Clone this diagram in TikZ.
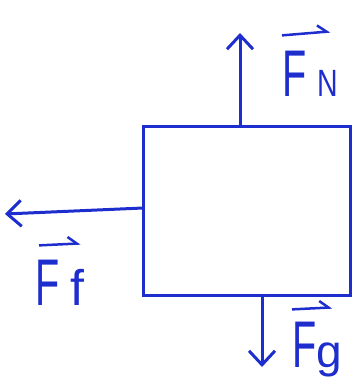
\documentclass[tikz,border=0pt]{standalone}
\usepackage{fontspec}
\usepackage{graphicx}
\setmainfont{Liberation Sans}
\usetikzlibrary{arrows.meta}
\definecolor{pen}{RGB}{30,45,205}
\newcommand{\bigF}{\scalebox{0.6}[1]{F}}
\newcommand{\subf}[1]{{\fontsize{38}{38}\selectfont\scalebox{0.75}[1]{#1}}}

\begin{document}
\begin{tikzpicture}[x=1pt,y=-1pt,
  force/.style={pen,line width=3pt,-{Straight Barb[length=14pt,width=26pt,line width=3pt]}},
  vecbar/.style={pen,line width=2.5pt,-{Straight Barb[left,length=9pt,width=14pt,line width=2.5pt]}},
  lbl/.style={pen,inner sep=0pt,font=\fontsize{66}{66}\selectfont}]
  \useasboundingbox (0,0) rectangle (355,385);
  % Block
  \node[draw=pen,line width=3pt,minimum width=207pt,minimum height=169pt,inner sep=0pt] (body) at (246.5,210.5) {};
  % Coordinates
  \coordinate (n0) at (240,126);
  \coordinate (n1) at (240,33);
  \coordinate (f0) at (143,208);
  \coordinate (f1) at (5,214);
  \coordinate (g0) at (262,295);
  \coordinate (g1) at (262,367);
  % Forces
  \draw[force] (n0) -- (n1);
  \draw[force] (f0) -- (f1);
  \draw[force] (g0) -- (g1);
  % Labels
  \node[lbl,anchor=base west] (fn) at (282,97) {\bigF\,\subf{N}};
  \node[lbl,anchor=base west] (ff) at (35,305) {\bigF\,{\fontsize{50}{50}\selectfont f}};
  \node[lbl,anchor=base west] (fg) at (292,367) {\bigF{\fontsize{46}{46}\selectfont g}};
  % vector bars
  \draw[vecbar] ([yshift=16pt]fn.north west) -- ([xshift=-8pt,yshift=20pt]fn.north east);
  \draw[vecbar] ([xshift=4pt,yshift=14pt]ff.north west) -- ([xshift=-4pt,yshift=16pt]ff.north east);
  \draw[vecbar] ([yshift=12pt]fg.north west) -- ([xshift=-10pt,yshift=14pt]fg.north east);
\end{tikzpicture}
\end{document}
